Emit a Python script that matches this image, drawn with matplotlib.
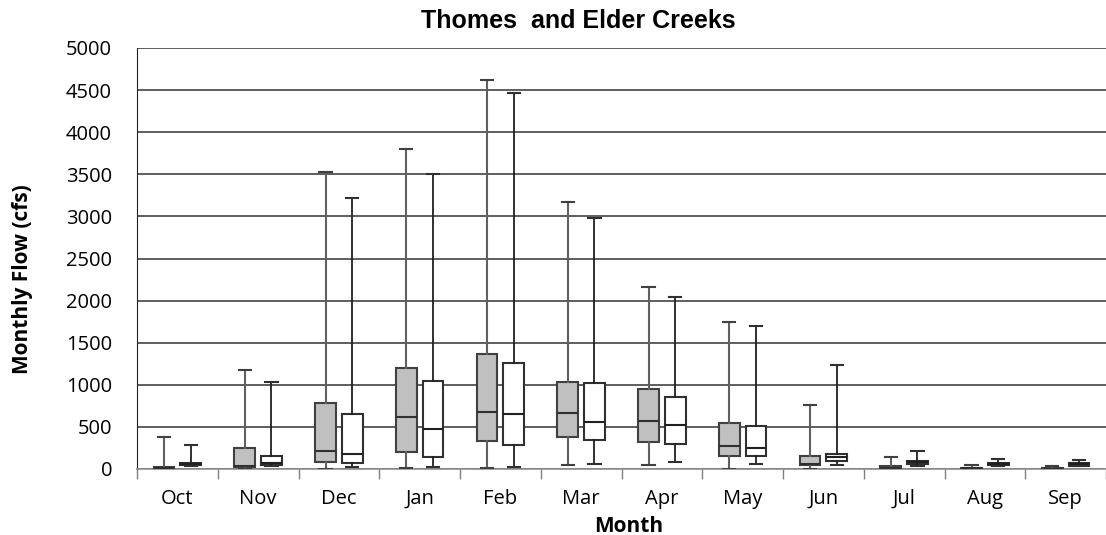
import numpy as np
import matplotlib.pyplot as plt

# monthly flow stats (cfs)
months = ['Oct', 'Nov', 'Dec', 'Jan', 'Feb', 'Mar', 'Apr', 'May', 'Jun', 'Jul', 'Aug', 'Sep']

thomes_min = [0, 5, 5, 15, 10, 50, 45, 5, 5, 0, 0, 0]
thomes_q1 = [5, 20, 85, 205, 335, 385, 320, 155, 45, 5, 3, 2]
thomes_med = [10, 40, 215, 615, 675, 660, 565, 275, 65, 15, 8, 5]
thomes_q3 = [20, 255, 780, 1205, 1365, 1030, 945, 550, 155, 30, 15, 10]
thomes_max = [385, 1180, 3530, 3800, 4615, 3175, 2160, 1750, 765, 145, 45, 30]

elder_min = [40, 35, 25, 25, 25, 65, 80, 55, 50, 35, 30, 30]
elder_q1 = [50, 45, 70, 140, 285, 345, 300, 155, 90, 55, 50, 40]
elder_med = [60, 75, 180, 480, 650, 555, 520, 250, 140, 80, 65, 55]
elder_q3 = [70, 155, 650, 1040, 1255, 1020, 850, 515, 180, 100, 75, 75]
elder_max = [290, 1035, 3215, 3500, 4470, 2980, 2040, 1700, 1230, 210, 120, 110]


def make_stats(mins, q1s, meds, q3s, maxs):
    stats = []
    for i in range(len(mins)):
        stats.append({'whislo': mins[i], 'q1': q1s[i], 'med': meds[i],
                      'q3': q3s[i], 'whishi': maxs[i], 'fliers': []})
    return stats


fig = plt.figure(figsize=(11.06, 5.35), dpi=100)
ax = fig.add_axes([137 / 1106, 1 - 469 / 535, 1 - 137 / 1106, (469 - 48) / 535])

pos = np.arange(1, len(months) + 1)
off = 0.165
w = 0.256

# gray boxes (Thomes)
ax.bxp(make_stats(thomes_min, thomes_q1, thomes_med, thomes_q3, thomes_max),
       positions=pos - off, widths=w, patch_artist=True, showfliers=False,
       boxprops=dict(facecolor='#c0c0c0', edgecolor='#404040', linewidth=1.5),
       medianprops=dict(color='#303030', linewidth=1.5),
       whiskerprops=dict(color='#606060', linewidth=1.5),
       capprops=dict(color='#404040', linewidth=1.5),
       capwidths=0.15, zorder=3)

# white boxes (Elder)
ax.bxp(make_stats(elder_min, elder_q1, elder_med, elder_q3, elder_max),
       positions=pos + off, widths=w, patch_artist=True, showfliers=False,
       boxprops=dict(facecolor='white', edgecolor='#303030', linewidth=1.5),
       medianprops=dict(color='#202020', linewidth=1.5),
       whiskerprops=dict(color='#202020', linewidth=1.3),
       capprops=dict(color='#303030', linewidth=1.5),
       capwidths=0.15, zorder=3)

ax.set_xlim(0.5, 0.5 + (1106 - 137) / 82)
ax.set_ylim(0, 5000)
ax.set_yticks(np.arange(0, 5001, 500))
ax.yaxis.grid(True, color='#333333', linewidth=1.1)
ax.set_axisbelow(True)

# month labels centred, tick marks between months
ax.set_xticks(np.arange(0.5, 13, 1))
ax.set_xticklabels([])
ax.set_xticks(pos, minor=True)
ax.set_xticklabels(months, minor=True, fontsize=14.5, family='Open Sans', va='baseline')
ax.tick_params(axis='x', which='major', length=7, color='#808080', width=1)
ax.tick_params(axis='x', which='minor', length=0, pad=25)
ax.tick_params(axis='y', length=0, pad=18, labelsize=14.5)
for lbl in ax.get_yticklabels():
    lbl.set_family('Open Sans')

ax.spines['top'].set_visible(False)
ax.spines['right'].set_visible(False)
ax.spines['left'].set_color('#202020')
ax.spines['bottom'].set_color('#909090')
ax.spines['bottom'].set_linewidth(1.2)

fig.text(578 / 1106, 1 - 21 / 535, 'Thomes  and Elder Creeks', ha='center', va='center',
         fontsize=18, fontweight='bold', family='Liberation Sans')
fig.text(629 / 1106, 1 - 526 / 535, 'Month', ha='center', va='center',
         fontsize=15, fontweight='bold', family='Open Sans')
fig.text(23 / 1106, 1 - 279 / 535, 'Monthly Flow (cfs)', ha='center', va='center',
         rotation=90, fontsize=15, fontweight='bold', family='Open Sans')

fig.savefig('out.png', dpi=100)
